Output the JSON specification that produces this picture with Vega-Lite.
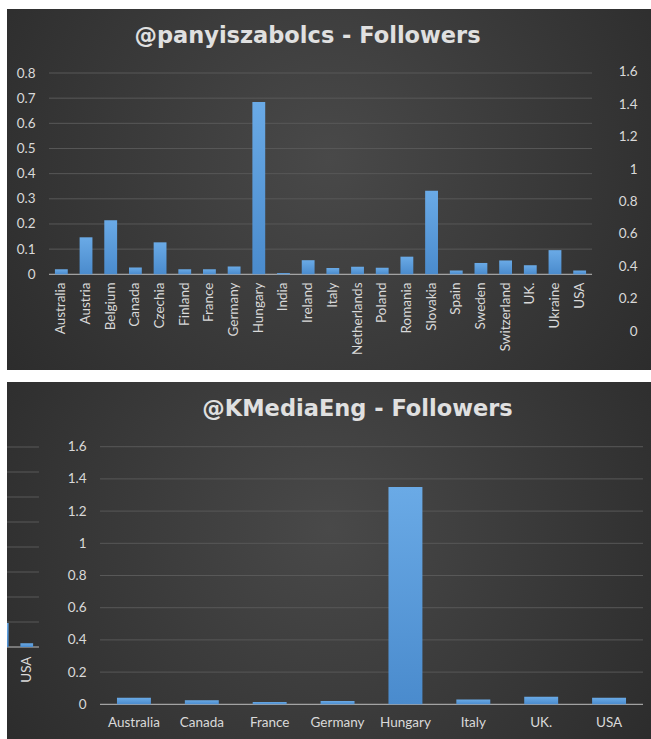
{
  "$schema": "https://vega.github.io/schema/vega-lite/v6.json",
  "background": "white",
  "padding": {"left": 6, "top": 9, "right": 0, "bottom": 0},
  "spacing": 12,
  "datasets": {
    "pany": [
      {"country": "Australia", "value": 0.02},
      {"country": "Austria", "value": 0.147},
      {"country": "Belgium", "value": 0.215},
      {"country": "Canada", "value": 0.027},
      {"country": "Czechia", "value": 0.127},
      {"country": "Finland", "value": 0.02},
      {"country": "France", "value": 0.02},
      {"country": "Germany", "value": 0.031},
      {"country": "Hungary", "value": 0.685},
      {"country": "India", "value": 0.005},
      {"country": "Ireland", "value": 0.056},
      {"country": "Italy", "value": 0.025},
      {"country": "Netherlands", "value": 0.03},
      {"country": "Poland", "value": 0.026},
      {"country": "Romania", "value": 0.07},
      {"country": "Slovakia", "value": 0.332},
      {"country": "Spain", "value": 0.015},
      {"country": "Sweden", "value": 0.045},
      {"country": "Switzerland", "value": 0.055},
      {"country": "UK.", "value": 0.036},
      {"country": "Ukraine", "value": 0.096},
      {"country": "USA", "value": 0.015}
    ],
    "kmedia": [
      {"country": "Australia", "value": 0.04},
      {"country": "Canada", "value": 0.025},
      {"country": "France", "value": 0.015},
      {"country": "Germany", "value": 0.02},
      {"country": "Hungary", "value": 1.35},
      {"country": "Italy", "value": 0.03},
      {"country": "UK.", "value": 0.047},
      {"country": "USA", "value": 0.04}
    ],
    "gridTop": [{"v": 0.1}, {"v": 0.2}, {"v": 0.3}, {"v": 0.4}, {"v": 0.5}, {"v": 0.6}, {"v": 0.7}, {"v": 0.8}],
    "gridBottom": [{"v": 0.2}, {"v": 0.4}, {"v": 0.6}, {"v": 0.8}, {"v": 1.0}, {"v": 1.2}, {"v": 1.4}, {"v": 1.6}],
    "one": [{}]
  },
  "vconcat": [
    {
      "width": 645,
      "height": 361,
      "view": {"stroke": null, "fill": {"gradient": "radial", "x1": 0.5, "y1": 0.45, "r1": 0, "x2": 0.5, "y2": 0.45, "r2": 0.75, "stops": [{"offset": 0, "color": "#494949"}, {"offset": 1, "color": "#252525"}]}},
      "title": {"text": "@panyiszabolcs - Followers", "font": "DejaVu Sans", "fontWeight": "bold", "fontSize": 22.5, "color": "#e0e0e0", "anchor": "middle", "frame": "group", "dx": -22, "offset": -56, "baseline": "alphabetic"},
      "layer": [
        {
          "data": {"name": "gridTop"},
          "mark": {"type": "rule", "color": "#585858", "strokeWidth": 1},
          "encoding": {
            "y": {"field": "v", "type": "quantitative", "scale": {"domain": [-0.3804, 1.0544], "nice": false, "zero": false}, "axis": null},
            "x": {"datum": "Australia", "type": "nominal", "bandPosition": -0.462, "axis": null,
                  "scale": {"domain": ["Australia","Austria","Belgium","Canada","Czechia","Finland","France","Germany","Hungary","India","Ireland","Italy","Netherlands","Poland","Romania","Slovakia","Spain","Sweden","Switzerland","UK.","Ukraine","USA"], "range": [42, 585], "paddingInner": 0.48, "paddingOuter": 0.24}},
            "x2": {"datum": "USA", "bandPosition": 1.465}
          }
        },
        {
          "data": {"name": "one"},
          "mark": {"type": "rule", "color": "#bfbfbf", "strokeWidth": 1},
          "encoding": {
            "y": {"datum": 0, "type": "quantitative", "scale": {"domain": [-0.3804, 1.0544], "nice": false, "zero": false}, "axis": null},
            "x": {"datum": "Australia", "type": "nominal", "bandPosition": -0.462, "axis": null,
                  "scale": {"domain": ["Australia","Austria","Belgium","Canada","Czechia","Finland","France","Germany","Hungary","India","Ireland","Italy","Netherlands","Poland","Romania","Slovakia","Spain","Sweden","Switzerland","UK.","Ukraine","USA"], "range": [42, 585], "paddingInner": 0.48, "paddingOuter": 0.24}},
            "x2": {"datum": "USA", "bandPosition": 1.465}
          }
        },
        {
          "data": {"name": "pany"},
          "mark": {"type": "bar", "color": {"gradient": "linear", "x1": 0, "y1": 0, "x2": 0, "y2": 1, "stops": [{"offset": 0, "color": "#6aaae6"}, {"offset": 1, "color": "#4a8bcd"}]}},
          "encoding": {
            "x": {"field": "country", "type": "nominal", "sort": null,
                  "scale": {"domain": ["Australia","Austria","Belgium","Canada","Czechia","Finland","France","Germany","Hungary","India","Ireland","Italy","Netherlands","Poland","Romania","Slovakia","Spain","Sweden","Switzerland","UK.","Ukraine","USA"], "range": [42, 585], "paddingInner": 0.48, "paddingOuter": 0.24},
                  "axis": {"orient": "bottom", "offset": -96, "labelAngle": 270, "labelPadding": 8, "labelOverlap": false, "title": null}},
            "y": {"field": "value", "type": "quantitative", "scale": {"domain": [-0.3804, 1.0544], "nice": false, "zero": false},
                  "axis": {"orient": "left", "offset": -42, "values": [0, 0.1, 0.2, 0.3, 0.4, 0.5, 0.6, 0.7, 0.8], "format": ".1~f", "labelPadding": 14, "title": null}}
          }
        },
        {
          "data": {"name": "one"},
          "mark": {"type": "rule", "opacity": 0},
          "encoding": {
            "y": {"datum": 0, "type": "quantitative", "scale": {"domain": [-0.2409, 1.9891], "nice": false, "zero": false},
                  "axis": {"orient": "right", "offset": -15, "values": [0, 0.2, 0.4, 0.6, 0.8, 1, 1.2, 1.4, 1.6], "format": ".1~f", "labelAlign": "right", "labelPadding": 0, "title": null}}
          }
        }
      ],
      "resolve": {"scale": {"x": "independent", "y": "independent"}, "axis": {"x": "independent", "y": "independent"}}
    },
    {
      "width": 645,
      "height": 357,
      "view": {"stroke": null, "fill": {"gradient": "radial", "x1": 0.5, "y1": 0.45, "r1": 0, "x2": 0.5, "y2": 0.45, "r2": 0.75, "stops": [{"offset": 0, "color": "#494949"}, {"offset": 1, "color": "#252525"}]}},
      "title": {"text": "@KMediaEng - Followers", "font": "DejaVu Sans", "fontWeight": "bold", "fontSize": 22.5, "color": "#e0e0e0", "anchor": "middle", "frame": "group", "dx": 28, "offset": -56, "baseline": "alphabetic"},
      "layer": [
        {
          "data": {"name": "gridBottom"},
          "mark": {"type": "rule", "color": "#585858", "strokeWidth": 1},
          "encoding": {
            "y": {"field": "v", "type": "quantitative", "scale": {"domain": [-0.2155, 2.0019], "nice": false, "zero": false}, "axis": null},
            "x": {"datum": "Australia", "type": "nominal", "bandPosition": -0.5, "axis": null,
                  "scale": {"domain": ["Australia","Canada","France","Germany","Hungary","Italy","UK.","USA"], "range": [93, 636], "paddingInner": 0.5, "paddingOuter": 0.25}},
            "x2": {"datum": "USA", "bandPosition": 1.5}
          }
        },
        {
          "data": {"name": "one"},
          "mark": {"type": "rule", "color": "#bfbfbf", "strokeWidth": 1},
          "encoding": {
            "y": {"datum": 0, "type": "quantitative", "scale": {"domain": [-0.2155, 2.0019], "nice": false, "zero": false}, "axis": null},
            "x": {"datum": "Australia", "type": "nominal", "bandPosition": -0.5, "axis": null,
                  "scale": {"domain": ["Australia","Canada","France","Germany","Hungary","Italy","UK.","USA"], "range": [93, 636], "paddingInner": 0.5, "paddingOuter": 0.25}},
            "x2": {"datum": "USA", "bandPosition": 1.5}
          }
        },
        {
          "data": {"name": "kmedia"},
          "mark": {"type": "bar", "color": {"gradient": "linear", "x1": 0, "y1": 0, "x2": 0, "y2": 1, "stops": [{"offset": 0, "color": "#6aaae6"}, {"offset": 1, "color": "#4a8bcd"}]}},
          "encoding": {
            "x": {"field": "country", "type": "nominal", "sort": null,
                  "scale": {"domain": ["Australia","Canada","France","Germany","Hungary","Italy","UK.","USA"], "range": [93, 636], "paddingInner": 0.5, "paddingOuter": 0.25},
                  "axis": {"orient": "bottom", "offset": -34.7, "labelAngle": 0, "labelPadding": 11, "labelOverlap": false, "title": null}},
            "y": {"field": "value", "type": "quantitative", "scale": {"domain": [-0.2155, 2.0019], "nice": false, "zero": false},
                  "axis": {"orient": "left", "offset": -93, "values": [0, 0.2, 0.4, 0.6, 0.8, 1, 1.2, 1.4, 1.6], "format": ".1~f", "labelPadding": 14, "title": null}}
          }
        },
        {
          "data": {"name": "gridTop"},
          "mark": {"type": "rule", "color": "#585858", "strokeWidth": 1},
          "encoding": {
            "y": {"field": "v", "type": "quantitative", "scale": {"domain": [-0.368, 1.06], "nice": false, "zero": false}, "axis": null},
            "x": {"datum": "Ukraine", "type": "nominal", "bandPosition": 0.873, "axis": null,
                  "scale": {"domain": ["Ukraine", "USA"], "range": [-17, 32], "paddingInner": 0.48, "paddingOuter": 0.24}},
            "x2": {"datum": "USA", "bandPosition": 1.4615}
          }
        },
        {
          "data": {"name": "one"},
          "mark": {"type": "rule", "color": "#bfbfbf", "strokeWidth": 1},
          "encoding": {
            "y": {"datum": 0, "type": "quantitative", "scale": {"domain": [-0.368, 1.06], "nice": false, "zero": false}, "axis": null},
            "x": {"datum": "Ukraine", "type": "nominal", "bandPosition": 0.873, "axis": null,
                  "scale": {"domain": ["Ukraine", "USA"], "range": [-17, 32], "paddingInner": 0.48, "paddingOuter": 0.24}},
            "x2": {"datum": "USA", "bandPosition": 1.4615}
          }
        },
        {
          "data": {"name": "pany"},
          "transform": [{"filter": "datum.country === 'USA' || datum.country === 'Ukraine'"}],
          "mark": {"type": "bar", "clip": true, "color": {"gradient": "linear", "x1": 0, "y1": 0, "x2": 0, "y2": 1, "stops": [{"offset": 0, "color": "#6aaae6"}, {"offset": 1, "color": "#4a8bcd"}]}},
          "encoding": {
            "x": {"field": "country", "type": "nominal", "sort": null,
                  "scale": {"domain": ["Ukraine", "USA"], "range": [-17, 32], "paddingInner": 0.48, "paddingOuter": 0.24},
                  "axis": {"orient": "bottom", "offset": -92, "values": ["USA"], "labelAngle": 270, "labelPadding": 9, "labelOverlap": false, "title": null}},
            "y": {"field": "value", "type": "quantitative", "scale": {"domain": [-0.368, 1.06], "nice": false, "zero": false}, "axis": null}
          }
        }
      ],
      "resolve": {"scale": {"x": "independent", "y": "independent"}, "axis": {"x": "independent", "y": "independent"}}
    }
  ],
  "config": {
    "view": {"stroke": null},
    "axis": {"domain": false, "ticks": false, "grid": false, "labelFont": "Lato", "labelFontSize": 13.5, "labelColor": "#d9d9d9"}
  }
}
